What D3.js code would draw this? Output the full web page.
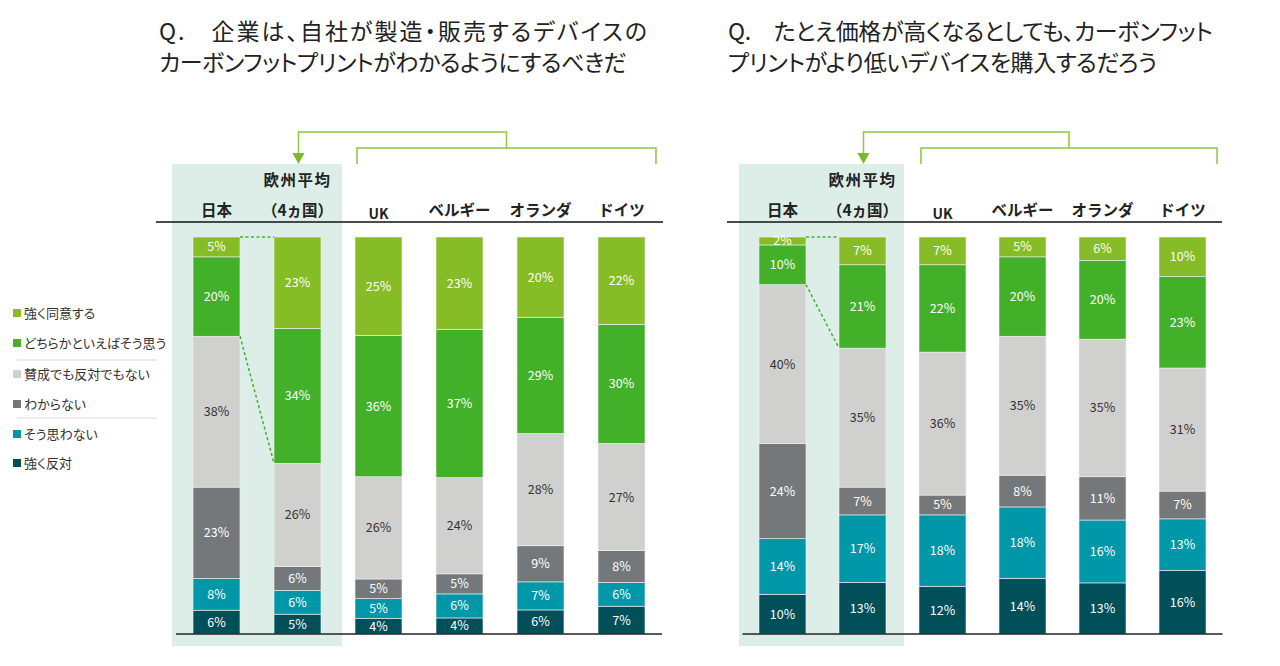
<!DOCTYPE html>
<html><head><meta charset="utf-8">
<script src="https://cdn.jsdelivr.net/npm/d3@7"></script>
<style>
html,body{margin:0;padding:0;background:#fff;}
svg{display:block;}
text{font-family:"Noto Sans CJK JP","Noto Sans",sans-serif;}
.ttl{font-feature-settings:"palt";}
</style></head>
<body>
<svg id="c" width="1280" height="666"></svg>
<script>
const seriesNames = ["強く同意する","どちらかといえばそう思う","賛成でも反対でもない","わからない","そう思わない","強く反対"];
const seriesColors = ["#86bc25","#43b02a","#d0d0ce","#75787b","#0097a9","#004f59"];
const labelColors = ["#fff","#fff","#333","#fff","#fff","#fff"];
const countries = ["日本","欧州平均","UK","ベルギー","オランダ","ドイツ"];

const titleLeft = ["Q.　企業は、自社が製造・販売するデバイスの","カーボンフットプリントがわかるようにするべきだ"];
const titleRight = ["Q.　たとえ価格が高くなるとしても、カーボンフット","プリントがより低いデバイスを購入するだろう"];

// values per country, order = seriesNames
const leftValues = {
  "日本":    [5,20,38,23,8,6],
  "欧州平均": [23,34,26,6,6,5],
  "UK":      [25,36,26,5,5,4],
  "ベルギー": [23,37,24,5,6,4],
  "オランダ": [20,29,28,9,7,6],
  "ドイツ":   [22,30,27,8,6,7]
};
const rightValues = {
  "日本":    [2,10,40,24,14,10],
  "欧州平均": [7,21,35,7,17,13],
  "UK":      [7,22,36,5,18,12],
  "ベルギー": [5,20,35,8,18,14],
  "オランダ": [6,20,35,11,16,13],
  "ドイツ":   [10,23,31,7,13,16]
};

const svg = d3.select("#c");

function panel(opts){
  const {values, rangeX, shade, title, titleX, titleW} = opts;
  const g = svg.append("g");
  const yTop = 237, yBot = 634;
  const x = d3.scaleBand().domain(countries).range(rangeX).paddingInner(opts.pi).paddingOuter(opts.po);
  const y = d3.scaleLinear().domain([0,1]).range([yBot, yTop]);

  // shade
  g.append("rect").attr("x", shade[0]).attr("y", 164).attr("width", shade[1]-shade[0]).attr("height", 646-164).attr("fill", "#ddeee8");

  // title
  title.forEach((s,i)=> g.append("text").attr("class","ttl").attr("x", titleX).attr("y", 40 + i*31)
      .attr("font-size", 23).attr("fill","#222")
      .attr("textLength", titleW[i]).attr("lengthAdjust","spacing").text(s));

  // data rows
  const rows = countries.map(c => {
    const o = {country:c};
    seriesNames.forEach((s,i)=> o[s] = values[c][i]);
    return o;
  });
  const keys = seriesNames.slice().reverse(); // bottom -> top
  const stack = d3.stack().keys(keys).offset(d3.stackOffsetExpand);
  const stacked = stack(rows);

  const layers = g.selectAll("g.layer").data(stacked).join("g").attr("class","layer")
    .attr("fill", d => seriesColors[seriesNames.indexOf(d.key)]);
  layers.selectAll("rect").data(d => d).join("rect")
    .attr("x", d => x(d.data.country))
    .attr("width", x.bandwidth())
    .attr("y", d => y(d[1]))
    .attr("height", d => y(d[0]) - y(d[1]))
    .attr("stroke", "#f2f2f2").attr("stroke-width", 0.6);

  stacked.forEach(layer => {
    const si = seriesNames.indexOf(layer.key);
    g.append("g").selectAll("text").data(layer).join("text")
      .attr("x", d => x(d.data.country) + x.bandwidth()/2)
      .attr("y", d => (y(d[0]) + y(d[1]))/2)
      .attr("dy", "0.36em")
      .attr("text-anchor","middle")
      .attr("font-size", 12.5)
      .attr("font-family", "'Noto Sans',sans-serif")
      .attr("fill", labelColors[si])
      .text(d => d.data[layer.key] + "%");
  });

  // header line and baseline
  g.append("line").attr("x1", opts.headX[0]).attr("x2", opts.headX[1]).attr("y1", 222).attr("y2", 222).attr("stroke","#111").attr("stroke-width",1.6);
  g.append("line").attr("x1", rangeX[0]).attr("x2", rangeX[1]).attr("y1", yBot).attr("y2", yBot).attr("stroke","#222").attr("stroke-width",1.3);

  // header labels
  const cx = c => x(c) + x.bandwidth()/2;
  const hdr = (txt, xx, yy, size) => g.append("text").attr("x", xx).attr("y", yy).attr("text-anchor","middle")
      .attr("font-size", size).attr("font-weight","bold").attr("fill","#222").text(txt);
  hdr("日本", cx("日本"), 216, 15.5);
  hdr("欧州平均", cx("欧州平均"), 186, 15.5).attr("letter-spacing", 1.5);
  hdr("（4ヵ国）", cx("欧州平均"), 216, 15.5);
  hdr("UK", cx("UK"), 219, 14).attr("font-family","'Open Sans',sans-serif");
  ["ベルギー","オランダ","ドイツ"].forEach(c => hdr(c, cx(c), 216, 15.5));

  // bracket connector
  const bL = x("UK") + 2, bR = x("ドイツ") + x.bandwidth() + 11;
  const mid = (bL + bR)/2;
  const brk = "#8dc63f";
  g.append("path").attr("d", `M${bL},164 V148 H${bR} V164`).attr("fill","none").attr("stroke",brk).attr("stroke-width",1.5);
  g.append("path").attr("d", `M${mid},148 V132 H${cx("欧州平均")+1} V154`).attr("fill","none").attr("stroke",brk).attr("stroke-width",1.5);
  const ax = cx("欧州平均")+1;
  g.append("path").attr("d", `M${ax-6},153 L${ax+6},153 L${ax},164 Z`).attr("fill","#7ab929");

  // dotted connectors
  const jp = stacked.find(l => l.key === seriesNames[1]);
  const jpRow = jp[0], euRow = jp[1];
  const jx = x("日本") + x.bandwidth(), ex = x("欧州平均");
  g.append("line").attr("x1", jx).attr("x2", ex).attr("y1", yTop).attr("y2", yTop)
    .attr("stroke","#43b02a").attr("stroke-width",1.5).attr("stroke-dasharray","3,2.5");
  g.append("line").attr("x1", jx).attr("x2", ex).attr("y1", y(jpRow[0])).attr("y2", y(euRow[0]))
    .attr("stroke","#43b02a").attr("stroke-width",1.5).attr("stroke-dasharray","3,2.5");
}

panel({values:leftValues, rangeX:[176,662], pi:0.42, po:0.21, shade:[172,342], title:titleLeft, titleX:159, titleW:[488,468], headX:[156,663]});
panel({values:rightValues, rangeX:[742.5,1222.5], pi:0.4125, po:0.206, shade:[739,904], title:titleRight, titleX:728, titleW:[485,429], headX:[727,1222]});

// legend
const leg = svg.append("g");
const legY = [313,343,374,404,434,463];
seriesNames.forEach((s,i) => {
  leg.append("rect").attr("x", 13).attr("y", legY[i]-4).attr("width", 8).attr("height", 8).attr("fill", seriesColors[i]);
  leg.append("text").attr("x", 24).attr("y", legY[i]).attr("dy","0.36em").attr("font-size", 13).attr("fill","#333")
    .style("font-feature-settings","'palt'").text(s);
});
[360,418].forEach(yy => leg.append("line").attr("x1",17).attr("x2",157).attr("y1",yy).attr("y2",yy).attr("stroke","#d9d9d9").attr("stroke-width",1));
</script>
</body></html>
